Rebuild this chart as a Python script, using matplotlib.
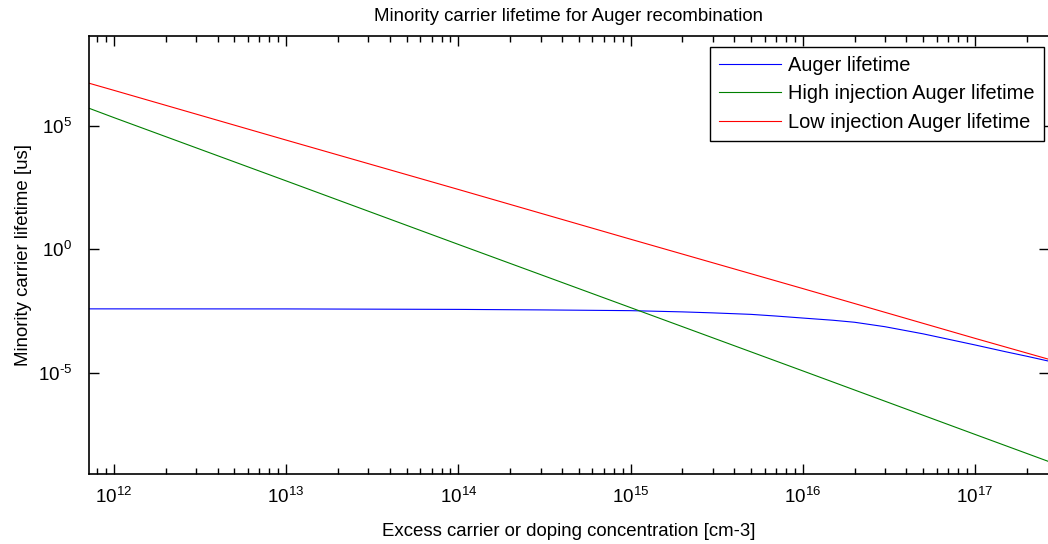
import numpy as np
import matplotlib
matplotlib.use("Agg")
import matplotlib.pyplot as plt
from matplotlib.ticker import LogLocator, FixedLocator, NullLocator, FuncFormatter

plt.rcParams['font.family'] = ['Liberation Sans', 'DejaVu Sans']
plt.rcParams['mathtext.fontset'] = 'custom'
plt.rcParams['mathtext.rm'] = 'Liberation Sans'
plt.rcParams['mathtext.it'] = 'Liberation Sans'

# concentrations (cm-3) where the curves were read
x_auger = [7.2e11, 1e13, 1e14, 3e14, 1e15, 2e15, 3e15, 5e15, 7e15, 1e16, 1.5e16, 2e16,
           3e16, 5e16, 7e16, 1e17, 1.5e17, 2e17, 2.7e17]
tau_auger = [3.91e-3, 3.89e-3, 3.72e-3, 3.55e-3, 3.31e-3, 2.95e-3, 2.69e-3, 2.34e-3, 2.0e-3,
             1.66e-3, 1.35e-3, 1.12e-3, 7.4e-4, 3.8e-4, 2.3e-4, 1.35e-4, 7.2e-5, 4.7e-5, 2.95e-5]

x_line = [7.2e11, 1e12, 1e13, 1e14, 1e15, 1e16, 1e17, 2.7e17]
tau_high = [5.2e5, 2.2e5, 600, 1.6, 4.4e-3, 1.2e-5, 3.2e-8, 2.5e-9]
tau_low = [5.4e6, 2.8e6, 2.7e4, 270, 2.6, 2.6e-2, 2.5e-4, 3.5e-5]

labels = ['Auger lifetime', 'High injection Auger lifetime', 'Low injection Auger lifetime']


# rótulo tipo 10^n com hífen curto no expoente
def fmt_pot(v, pos):
    e = int(round(np.log10(v)))
    if e < 0:
        return r'$\mathregular{10^{\text{-}%d}}$' % (-e)
    return r'$\mathregular{10^{%d}}$' % e


fig = plt.figure(figsize=(10.48, 5.44), dpi=100)
ax = fig.add_axes([89 / 1048, 1 - 474 / 544, 960 / 1048, 438 / 544])

ax.loglog(x_auger, tau_auger, color=(0, 0, 1), lw=0.8, label=labels[0])
ax.loglog(x_line, tau_high, color=(0, 0.5, 0), lw=0.8, label=labels[1])
ax.loglog(x_line, tau_low, color=(1, 0, 0), lw=0.8, label=labels[2])

ax.set_xlim(10 ** 11.855, 10 ** 17.43)
ax.set_ylim(10 ** -9.1, 10 ** 8.65)

ax.xaxis.set_major_locator(LogLocator(base=10, numticks=20))
ax.xaxis.set_minor_locator(LogLocator(base=10, subs=np.arange(2, 10), numticks=20))
ax.yaxis.set_major_locator(FixedLocator([1e-5, 1, 1e5]))
ax.yaxis.set_minor_locator(NullLocator())
ax.xaxis.set_major_formatter(FuncFormatter(fmt_pot))
ax.yaxis.set_major_formatter(FuncFormatter(fmt_pot))

ax.tick_params(which='both', direction='in', top=True, right=True, labelsize=13.6, width=1.0)
ax.tick_params(which='major', length=7.5)
ax.tick_params(which='minor', length=4)
ax.tick_params(axis='x', which='major', pad=9)
ax.tick_params(axis='y', which='major', pad=12)
for s in ax.spines.values():
    s.set_linewidth(1.2)

ax.set_title('Minority carrier lifetime for Auger recombination', fontsize=13.4, pad=11)
ax.set_xlabel('Excess carrier or doping concentration [cm-3]', fontsize=13.4, labelpad=12)
ax.set_ylabel('Minority carrier lifetime [us]', fontsize=13.4, labelpad=4)

leg = ax.legend(loc='upper right', bbox_to_anchor=(954 / 959, 427 / 438), borderaxespad=0,
                fontsize=14.4, fancybox=False, framealpha=1, edgecolor='black',
                handlelength=3.1, handletextpad=0.35, borderpad=0.45, labelspacing=0.47)
leg.get_frame().set_linewidth(1.0)

fig.savefig('out.png', dpi=100)
